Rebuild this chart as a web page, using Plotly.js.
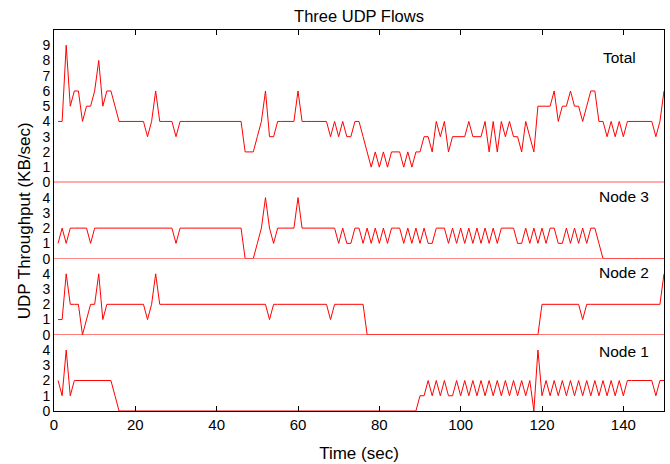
<!DOCTYPE html>
<html>
<head>
<meta charset="utf-8">
<script src="https://cdn.plot.ly/plotly-3.0.1.min.js"></script>
<style>html,body{margin:0;padding:0;background:#fff;}#chart{width:670px;height:464px;}</style>
</head>
<body>
<div id="chart"></div>
<script>
const timeSec = [1,2,3,4,5,6,7,8,9,10,11,12,13,14,15,16,17,18,19,20,21,22,23,24,25,26,27,28,29,30,
31,32,33,34,35,36,37,38,39,40,41,42,43,44,45,46,47,48,49,50,51,52,53,54,55,56,57,58,59,60,
61,62,63,64,65,66,67,68,69,70,71,72,73,74,75,76,77,78,79,80,81,82,83,84,85,86,87,88,89,90,
91,92,93,94,95,96,97,98,99,100,101,102,103,104,105,106,107,108,109,110,111,112,113,114,115,116,117,118,119,120,
121,122,123,124,125,126,127,128,129,130,131,132,133,134,135,136,137,138,139,140,141,142,143,144,145,146,147,148,149,150];

const totalKB = [4,4,9,5,6,6,4,5,5,6, 8,5,6,6,5,4,4,4,4,4, 4,4,3,4,6,4,4,4,4,3,
4,4,4,4,4,4,4,4,4,4, 4,4,4,4,4,4,2,2,2,3, 4,6,3,3,4,4,4,4,4,6,
4,4,4,4,4,4,4,3,4,3, 4,3,3,4,4,3,2,1,2,1, 2,1,2,2,2,1,2,1,2,2,
3,3,2,4,3,4,2,3,3,3, 3,4,3,3,3,4,2,4,2,4, 3,4,3,3,2,4,3,2,5,5,
5,5,6,4,5,5,6,5,5,4, 5,6,6,4,4,3,4,3,4,3, 4,4,4,4,4,4,4,3,4,6];

const node3KB = [1,2,1,2,2,2,2,2,1,2, 2,2,2,2,2,2,2,2,2,2, 2,2,2,2,2,2,2,2,2,1,
2,2,2,2,2,2,2,2,2,2, 2,2,2,2,2,2,0,0,0,1, 2,4,2,1,2,2,2,2,2,4,
2,2,2,2,2,2,2,2,2,1, 2,1,1,2,2,1,2,1,2,1, 2,1,2,2,2,1,2,1,2,1,
2,1,1,2,2,2,1,2,1,2, 1,2,1,2,1,2,1,2,1,2, 2,2,2,1,1,2,1,2,1,2,
1,2,2,1,1,2,1,2,1,2, 1,2,2,1,0,0,0,0,0,0, 0,0,0,0,0,0,0,0,0,0];

const node2KB = [1,1,4,2,2,2,0,1,2,2, 4,1,2,2,2,2,2,2,2,2, 2,2,1,2,4,2,2,2,2,2,
2,2,2,2,2,2,2,2,2,2, 2,2,2,2,2,2,2,2,2,2, 2,2,1,2,2,2,2,2,2,2,
2,2,2,2,2,2,2,1,2,2, 2,2,2,2,2,2,0,0,0,0, 0,0,0,0,0,0,0,0,0,0,
0,0,0,0,0,0,0,0,0,0, 0,0,0,0,0,0,0,0,0,0, 0,0,0,0,0,0,0,0,0,2,
2,2,2,2,2,2,2,2,2,1, 2,2,2,2,2,2,2,2,2,2, 2,2,2,2,2,2,2,2,2,4];

const node1KB = [2,1,4,1,2,2,2,2,2,2, 2,2,2,2,1,0,0,0,0,0, 0,0,0,0,0,0,0,0,0,0,
0,0,0,0,0,0,0,0,0,0, 0,0,0,0,0,0,0,0,0,0, 0,0,0,0,0,0,0,0,0,0,
0,0,0,0,0,0,0,0,0,0, 0,0,0,0,0,0,0,0,0,0, 0,0,0,0,0,0,0,0,0,1,
1,2,1,2,1,2,1,1,2,1, 2,1,2,1,2,1,2,1,2,1, 2,1,2,1,2,1,2,0,4,1,
2,1,2,1,2,1,2,1,2,1, 2,1,2,1,2,1,2,1,2,1, 2,2,2,2,2,2,2,1,2,2];

const panelLabels = ['Total', 'Node 3', 'Node 2', 'Node 1'];
const totalTicks = [0,1,2,3,4,5,6,7,8,9];
const nodeTicks = [0,1,2,3,4];
const xTicks = [0,20,40,60,80,100,120,140];

const FONT = 'Liberation Sans, Arial, Helvetica, sans-serif';
const RED = 'rgb(255,0,0)';

function tr(y, xa, ya) {
  return {x: timeSec, y: y, xaxis: xa, yaxis: ya, type: 'scatter', mode: 'lines',
          line: {color: RED, width: 1}, hoverinfo: 'skip', showlegend: false};
}

const data = [
  tr(node1KB, 'x', 'y'),
  tr(node2KB, 'x', 'y2'),
  tr(node3KB, 'x', 'y3'),
  tr(totalKB, 'x2', 'y4')
];

function yax(domain, ticks, rmax, anchor) {
  return {domain: domain, range: [0, rmax], anchor: anchor,
    tickmode: 'array', tickvals: ticks, ticktext: ticks.map(String),
    ticks: '', showgrid: false, zeroline: false,
    showline: true, linecolor: '#000', linewidth: 1, mirror: true,
    tickfont: {family: FONT, size: 14, color: '#000'}, fixedrange: true};
}

const layout = {
  width: 670, height: 464,
  margin: {l: 54, r: 6, t: 30, b: 53},
  paper_bgcolor: '#fff', plot_bgcolor: '#fff',
  font: {family: FONT, color: '#000'},
  title: {text: 'Three UDP Flows', x: 0.5, xref: 'paper', y: 1 - 16/464, yref: 'container',
          xanchor: 'center', yanchor: 'middle', font: {family: FONT, size: 16.5, color: '#000'}},
  xaxis: {range: [0, 150], anchor: 'y', domain: [0, 1], tickmode: 'array', tickvals: xTicks,
    ticks: 'inside', ticklen: 5, tickcolor: '#000', showgrid: false, zeroline: false,
    showline: true, linecolor: '#000', linewidth: 1,
    tickfont: {family: FONT, size: 15, color: '#000'},
    title: {text: 'Time (sec)', font: {family: FONT, size: 17, color: '#000'}, standoff: 15}},
  xaxis2: {range: [0, 150], anchor: 'y4', side: 'top', domain: [0, 1], matches: 'x',
    tickmode: 'array', tickvals: xTicks, showticklabels: false,
    ticks: 'inside', ticklen: 5, tickcolor: '#000', showgrid: false, zeroline: false,
    showline: true, linecolor: '#000', linewidth: 1},
  yaxis: yax([0, 0.2], nodeTicks, 5, 'x'),
  yaxis2: yax([0.2, 0.4], nodeTicks, 5, 'x'),
  yaxis3: yax([0.4, 0.6], nodeTicks, 5, 'x'),
  yaxis4: yax([0.6, 1], totalTicks, 10, 'x2'),
  shapes: [
    {type: 'line', xref: 'paper', x0: 0, x1: 1, yref: 'y2', y0: 0, y1: 0, line: {color: RED, width: 1}},
    {type: 'line', xref: 'paper', x0: 0, x1: 1, yref: 'y3', y0: 0, y1: 0, line: {color: RED, width: 1}},
    {type: 'line', xref: 'paper', x0: 0, x1: 1, yref: 'y4', y0: 0, y1: 0, line: {color: 'rgb(255,90,90)', width: 2}}
  ],
  annotations: [
    {text: 'UDP Throughput (KB/sec)', xref: 'paper', yref: 'paper', x: -0.048, y: 0.5,
     xanchor: 'center', yanchor: 'middle', textangle: -90, showarrow: false,
     font: {family: FONT, size: 17, color: '#000'}},
    {text: panelLabels[0], xref: 'paper', yref: 'y4', x: 0.896, y: 8.2, xanchor: 'left', yanchor: 'middle', showarrow: false, font: {family: FONT, size: 15.5, color: '#000'}},
    {text: panelLabels[1], xref: 'paper', yref: 'y3', x: 0.89, y: 4.1, xanchor: 'left', yanchor: 'middle', showarrow: false, font: {family: FONT, size: 15.5, color: '#000'}},
    {text: panelLabels[2], xref: 'paper', yref: 'y2', x: 0.89, y: 4.1, xanchor: 'left', yanchor: 'middle', showarrow: false, font: {family: FONT, size: 15.5, color: '#000'}},
    {text: panelLabels[3], xref: 'paper', yref: 'y', x: 0.89, y: 3.9, xanchor: 'left', yanchor: 'middle', showarrow: false, font: {family: FONT, size: 15.5, color: '#000'}}
  ]
};

Plotly.newPlot('chart', data, layout, {staticPlot: true, displayModeBar: false});
</script>
</body>
</html>
